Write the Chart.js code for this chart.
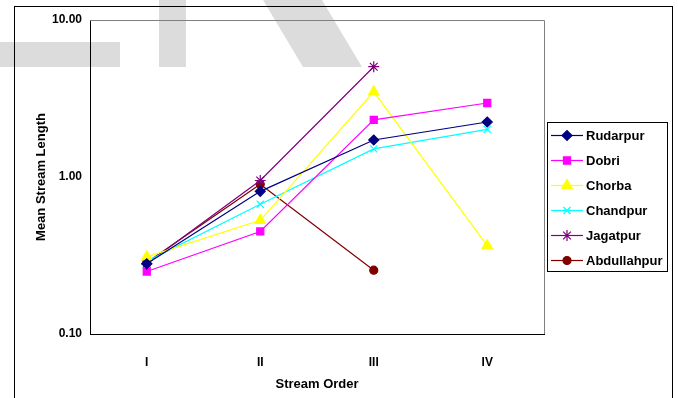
<!DOCTYPE html>
<html>
<head>
<meta charset="utf-8">
<title>Mean Stream Length</title>
<script src="https://cdn.jsdelivr.net/npm/chart.js"></script>
<style>
body{margin:0;background:white;}
#wrap{position:relative;width:678px;height:398px;}
</style>
</head>
<body>
<div id="wrap"><canvas id="chart" width="678" height="398"></canvas></div>
<script>
const orders=["I","II","III","IV"];
const rudarpur=[0.28,0.81,1.72,2.24];
const dobri=[0.25,0.45,2.31,2.96];
const chorba=[0.31,0.53,3.49,0.365];
const chandpur=[0.29,0.67,1.51,2.01];
const jagatpur=[0.28,0.95,5.04,null];
const abdullahpur=[0.285,0.90,0.255,null];
const yTicks=[0.1,1,10];

function ds(label,data,color,style,r){
return {label,data,borderColor:color,backgroundColor:color,borderWidth:1.2,
pointStyle:style,pointRadius:r,pointHoverRadius:r,pointBorderWidth:1.2,tension:0,spanGaps:false};
}

// background watermark, outer frame and boxed legend
const frame={
id:"frame",
beforeDraw(chart){
const c=chart.ctx;
c.save();
c.fillStyle="#dcdcdc";
c.fillRect(0,42,120,25);
c.fillRect(159,0,27,67);
c.beginPath();
c.moveTo(263,0);c.lineTo(322,0);c.lineTo(362,67);c.lineTo(303,67);c.closePath();
c.fill();
c.strokeStyle="#000";c.lineWidth=1;
c.strokeRect(14.5,6.5,658,400);
c.restore();
},
afterDraw(chart){
const a=chart.chartArea,c=chart.ctx;
c.save();
c.lineWidth=1;
c.strokeStyle="#808080";
c.beginPath();
c.moveTo(a.left,a.top+0.5);c.lineTo(a.right+0.5,a.top+0.5);c.lineTo(a.right+0.5,a.bottom);
c.stroke();
const lx=547,ly=122,lw=120,lh=149;
c.strokeStyle="#000";
c.strokeRect(lx+0.5,ly+0.5,lw,lh);
c.font="bold 13px 'Liberation Sans', Arial, sans-serif";
c.textBaseline="middle";
chart.data.datasets.forEach((d,i)=>{
const y=ly+13+i*25;
c.strokeStyle=d.borderColor;c.fillStyle=d.backgroundColor;c.lineWidth=1.2;
c.beginPath();c.moveTo(lx+4,y+0.5);c.lineTo(lx+36,y+0.5);c.stroke();
Chart.helpers.drawPoint(c,{pointStyle:d.pointStyle,radius:d.pointRadius,borderWidth:1.2},lx+20,y+0.5);
c.fillStyle="#000";
c.fillText(d.label,lx+39,y+1);
});
c.restore();
}
};

Chart.defaults.font.family="'Liberation Sans', Arial, sans-serif";
Chart.defaults.color="#000";

new Chart(document.getElementById("chart"),{
type:"line",
data:{labels:orders,datasets:[
ds("Rudarpur",rudarpur,"#000080","rectRot",5),
ds("Dobri",dobri,"#FF00FF","rect",5),
ds("Chorba",chorba,"#FFFF00","triangle",6),
ds("Chandpur",chandpur,"#00FFFF","crossRot",5),
ds("Jagatpur",jagatpur,"#800080","star",5.5),
ds("Abdullahpur",abdullahpur,"#800000","circle",4)
]},
options:{
responsive:false,animation:false,
layout:{padding:{left:34,top:20,right:134,bottom:6}},
plugins:{legend:{display:false},tooltip:{enabled:false}},
scales:{
x:{
offset:true,
grid:{display:false,drawTicks:false,offset:true},
border:{color:"#000",width:1},
ticks:{font:{size:12,weight:"bold"},padding:21},
title:{display:true,text:"Stream Order",font:{size:13,weight:"bold"},padding:{top:2,bottom:0}},
afterFit(s){s.height=58;}
},
y:{
type:"logarithmic",min:0.1,max:10,
grid:{display:false,drawTicks:true,tickLength:4,tickColor:"#000"},
border:{color:"#000",width:1},
afterBuildTicks(s){s.ticks=yTicks.map(v=>({value:v}));},
ticks:{font:{size:12,weight:"bold"},padding:4,callback:v=>v.toFixed(2)},
title:{display:true,text:"Mean Stream Length",font:{size:13,weight:"bold"},padding:{top:0,bottom:0}},
afterFit(s){s.width=56;}
}
}
},
plugins:[frame]
});
</script>
</body>
</html>
